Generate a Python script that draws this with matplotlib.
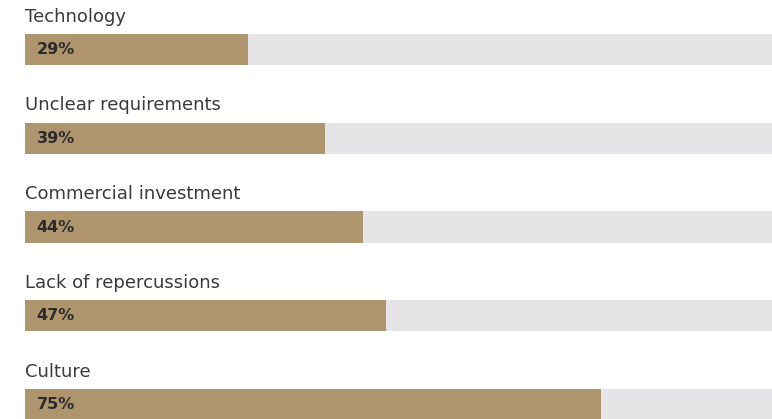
import matplotlib.pyplot as plt

categories = ["Technology", "Unclear requirements", "Commercial investment",
              "Lack of repercussions", "Culture"]
values = [29, 39, 44, 47, 75]

plt.rcParams['font.family'] = ['DejaVu Sans']

fig = plt.figure(figsize=(7.72, 4.19), dpi=100)
ax = fig.add_axes([0, 0, 1, 1])

y = list(range(len(categories)))
ax.barh(y, [100] * len(values), height=0.35, left=0, color='#e5e5e7')
ax.barh(y, values, height=0.35, left=0, color='#ae956d')

for i, (cat, v) in enumerate(zip(categories, values)):
    ax.text(0, i - 0.37, cat, ha='left', va='center', fontsize=13, color='#3a3a3a')
    ax.text(1.5, i, f"{v}%", ha='left', va='center', fontsize=11.5,
            fontweight='bold', color='#2b2b2b')

ax.set_xlim(-3.26, 97.27)
ax.set_ylim(4.163, -0.558)
ax.axis('off')

fig.savefig('out.png', dpi=100)
